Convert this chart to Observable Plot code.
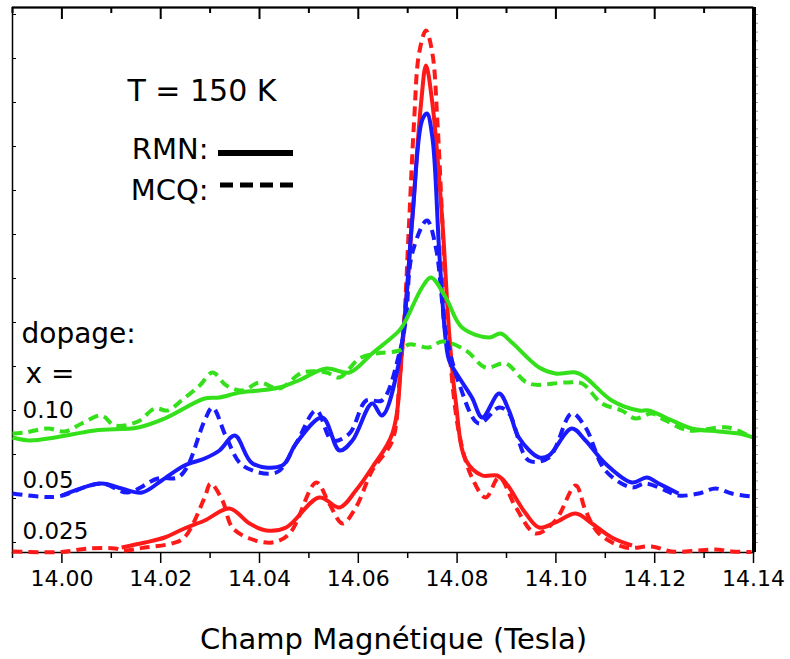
<!DOCTYPE html>
<html>
<head>
<meta charset="utf-8">
<script src="https://cdn.jsdelivr.net/npm/d3@7"></script>
<script src="https://cdn.jsdelivr.net/npm/@observablehq/plot@0.6"></script>
<style>
  html, body { margin: 0; padding: 0; background: #fff; }
</style>
</head>
<body>
<div id="chart"></div>
<script>
// ---- Data (field in Tesla, intensity in arbitrary units) ----
const field_x10_RMN = [13.990,13.9935,13.9986,14.0067,14.0154,14.0208,14.0289,14.0319,14.036,14.040,14.044,14.0479,14.0535,14.0582,14.0628,14.0683,14.0696,14.0729,14.0747,14.0777,14.081,14.0865,14.0888,14.0911,14.0966,14.0999,14.104,14.106,14.1113,14.1168,14.1188,14.1222,14.1275,14.1329,14.137,14.140];
const int_x10_RMN   = [115,112,115,122,125,134,154,155,160,162,165,172,184,180,199,222,232,265,275,255,225,215,219,210,185,179,180,175,152,142,142,135,124,121,119,115];

const field_x10_MCQ = [13.990,13.9925,13.9972,14.0006,14.004,14.008,14.0107,14.0154,14.0188,14.0214,14.0242,14.0279,14.0305,14.0333,14.0366,14.040,14.044,14.0487,14.0535,14.0562,14.0602,14.0636,14.0683,14.0703,14.0743,14.077,14.0818,14.0858,14.0898,14.0945,14.102,14.1053,14.1093,14.1133,14.1161,14.1194,14.1222,14.1269,14.1349,14.1396];
const int_x10_MCQ   = [119,120,124,121,129,137,127,131,144,142,152,167,180,167,162,170,164,180,180,175,194,199,202,208,205,211,202,185,189,169,170,169,149,142,134,139,132,122,125,115];

const field_x05_RMN = [14.000,14.008,14.0121,14.0162,14.0202,14.0248,14.0289,14.0319,14.035,14.0386,14.0446,14.0474,14.0527,14.0562,14.0588,14.0628,14.0648,14.0683,14.0709,14.0729,14.0739,14.075,14.0764,14.0777,14.0784,14.0804,14.083,14.0851,14.0885,14.0905,14.0925,14.0966,14.0986,14.1032,14.106,14.110,14.1154,14.1184,14.1208,14.1248];
const int_x05_RMN   = [57,69,64,60,72,87,94,102,117,89,87,109,135,102,112,149,137,192,332,432,439,415,299,212,192,175,155,135,159,142,115,95,97,124,112,89,70,75,69,59];

const field_x05_MCQ = [13.990,13.9952,13.9992,14.008,14.0133,14.0194,14.0234,14.0253,14.0289,14.0305,14.0333,14.0366,14.0434,14.0474,14.0515,14.0547,14.0582,14.0616,14.0648,14.0683,14.0696,14.0709,14.0739,14.0757,14.077,14.0776,14.0804,14.0844,14.0885,14.0905,14.0945,14.0986,14.1032,14.106,14.110,14.1154,14.1181,14.1222,14.1248,14.1289,14.1323,14.1356,14.1396];
const int_x05_MCQ   = [59,56,56,69,60,74,75,85,132,145,115,87,80,109,142,112,119,152,152,199,232,299,332,305,249,222,169,129,145,139,92,95,139,125,82,65,69,62,57,59,64,59,56];

const field_x025_RMN = [14.0121,14.0168,14.0208,14.0248,14.0289,14.0339,14.038,14.0414,14.0454,14.0521,14.0562,14.0595,14.0628,14.0669,14.0689,14.0709,14.0727,14.0737,14.075,14.077,14.0784,14.0797,14.0818,14.0851,14.0881,14.0898,14.0939,14.0966,14.0999,14.104,14.1073,14.1113,14.1154];
const int_x025_RMN   = [5,10,15,24,32,44,29,22,25,55,45,62,85,119,205,332,449,487,449,332,219,152,92,77,77,70,39,25,30,39,29,15,7];

const field_x025_MCQ = [13.990,13.9999,14.0053,14.0107,14.0127,14.0168,14.0222,14.0248,14.0289,14.0301,14.0325,14.0345,14.038,14.0426,14.0461,14.0515,14.0541,14.0568,14.0595,14.0628,14.0669,14.0683,14.0693,14.0703,14.0713,14.0723,14.0737,14.075,14.076,14.077,14.078,14.0804,14.083,14.0858,14.0885,14.0919,14.0959,14.0999,14.104,14.106,14.1087,14.1141,14.1194,14.1234,14.1289,14.1323,14.1356,14.1396];
const int_x025_MCQ   = [1,0.5,4,4,2,5,9,15,55,69,52,25,14,10,19,70,49,29,45,82,112,169,232,332,432,499,522,499,432,332,232,119,75,55,75,45,19,32,67,42,19,5,6,1,2,3,1,0.5];

// tick values
const xMajorTicks = [14.00, 14.02, 14.04, 14.06, 14.08, 14.10, 14.12, 14.14];
const xMinorTicks = [13.99, 14.01, 14.03, 14.05, 14.07, 14.09, 14.11, 14.13];
const yLeftTicks  = [10, 54, 98, 142, 186, 230, 274, 318, 362, 406, 450, 494, 538];
const yRightTicks = d3.range(10, 545, 8.8);

// dopage labels
const dopageLabels = ["0.10", "0.05", "0.025"];

const X_DOMAIN = [13.99, 14.14];
const Y_DOMAIN = [0, 545];

// series configuration (built from arrays above)
const series = [
  {field: field_x025_MCQ, intensity: int_x025_MCQ, color: "#ff1a1a", dash: "10,6"},
  {field: field_x025_RMN, intensity: int_x025_RMN, color: "#ff1a1a", dash: null},
  {field: field_x05_MCQ,  intensity: int_x05_MCQ,  color: "#1a1aff", dash: "10,6"},
  {field: field_x05_RMN,  intensity: int_x05_RMN,  color: "#1a1aff", dash: null},
  {field: field_x10_MCQ,  intensity: int_x10_MCQ,  color: "#33e01a", dash: "10,6"},
  {field: field_x10_RMN,  intensity: int_x10_RMN,  color: "#33e01a", dash: null}
];

const lineMarks = series.map(s => {
  const rows = s.field.map((f, i) => ({field: f, intensity: s.intensity[i]}));
  return Plot.line(rows, {
    x: "field", y: "intensity", stroke: s.color, strokeWidth: 4,
    strokeDasharray: s.dash, curve: "catmull-rom", strokeLinecap: "butt", strokeLinejoin: "round"
  });
});

const FONT = "DejaVu Sans";

const chart = Plot.plot({
  width: 790,
  height: 659,
  marginLeft: 12,
  marginRight: 37,
  marginTop: 7,
  marginBottom: 107,
  style: {fontFamily: FONT, background: "white", color: "black"},
  x: {domain: X_DOMAIN},
  y: {domain: Y_DOMAIN},
  marks: [
    Plot.frame({stroke: "black", strokeWidth: 1.5}),
    Plot.axisX({anchor: "bottom", ticks: xMajorTicks, tickSize: 11, tickPadding: 7,
      tickFormat: d3.format(".2f"), fontSize: 22, label: null, strokeWidth: 1.5}),
    Plot.axisX({anchor: "bottom", ticks: xMinorTicks, tickSize: 6, tickFormat: () => "", label: null, strokeWidth: 1.5}),
    Plot.axisY({anchor: "left", ticks: yLeftTicks, tickSize: -4, tickFormat: () => "", label: null, strokeWidth: 1}),
    Plot.axisY({anchor: "right", ticks: yRightTicks, tickSize: 4, tickFormat: () => "", label: null, stroke: "#999", strokeWidth: 1}),
    // top border and inward top ticks (1 intensity unit = 1 px here)
    Plot.ruleY([Y_DOMAIN[1]], {stroke: "black", strokeWidth: 2}),
    Plot.ruleX(xMajorTicks, {y1: Y_DOMAIN[1], y2: Y_DOMAIN[1] - 12, stroke: "black", strokeWidth: 2}),
    Plot.ruleX(xMinorTicks, {y1: Y_DOMAIN[1], y2: Y_DOMAIN[1] - 6, stroke: "black", strokeWidth: 2}),
    ...lineMarks,
    // heavy right border
    Plot.ruleX([X_DOMAIN[1]], {stroke: "black", strokeWidth: 4, dx: 0.5}),
    // annotations
    Plot.text(["T = 150 K"], {frameAnchor: "top-left", dx: 115, dy: 93, lineAnchor: "bottom", textAnchor: "start", fontSize: 30}),
    Plot.text(["RMN:"], {frameAnchor: "top-left", dx: 196, dy: 151, lineAnchor: "bottom", textAnchor: "end", fontSize: 29}),
    Plot.text(["MCQ:"], {frameAnchor: "top-left", dx: 196, dy: 192, lineAnchor: "bottom", textAnchor: "end", fontSize: 29}),
    Plot.text(["dopage:"], {frameAnchor: "top-left", dx: 9, dy: 335, lineAnchor: "bottom", textAnchor: "start", fontSize: 28}),
    Plot.text(["x ="], {frameAnchor: "top-left", dx: 13, dy: 375, lineAnchor: "bottom", textAnchor: "start", fontSize: 28}),
    Plot.text([dopageLabels[0]], {frameAnchor: "top-left", dx: 10, dy: 410, lineAnchor: "bottom", textAnchor: "start", fontSize: 23}),
    Plot.text([dopageLabels[1]], {frameAnchor: "top-left", dx: 10, dy: 480, lineAnchor: "bottom", textAnchor: "start", fontSize: 23}),
    Plot.text([dopageLabels[2]], {frameAnchor: "top-left", dx: 10, dy: 531, lineAnchor: "bottom", textAnchor: "start", fontSize: 23}),
    Plot.text(["Champ Magnétique (Tesla)"], {frameAnchor: "bottom", dx: 10.5, dy: 96, lineAnchor: "bottom", textAnchor: "middle", fontSize: 29}),
    // legend keys
    () => {
      const g = d3.create("svg:g");
      g.append("line").attr("x1", 218).attr("x2", 293).attr("y1", 153).attr("y2", 153)
        .attr("stroke", "black").attr("stroke-width", 6);
      g.append("line").attr("x1", 220).attr("x2", 293).attr("y1", 185).attr("y2", 185)
        .attr("stroke", "black").attr("stroke-width", 5).attr("stroke-dasharray", "13,7");
      return g.node();
    }
  ]
});
document.getElementById("chart").appendChild(chart);
</script>
</body>
</html>
